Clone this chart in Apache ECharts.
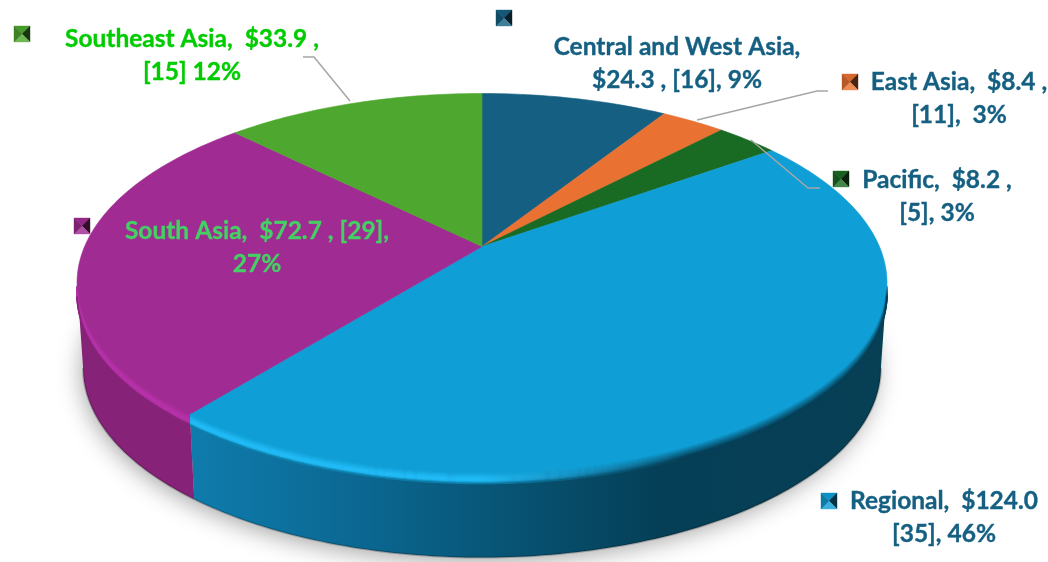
<!DOCTYPE html>
<html>
<head>
<meta charset="utf-8">
<style>html,body{margin:0;padding:0;background:#fff}#main{width:1048px;height:562px}</style>
<script src="https://cdn.jsdelivr.net/npm/echarts@6/dist/echarts.min.js"></script>
</head>
<body>
<div id="main"></div>
<script>
// values, clockwise from 12 o'clock
var regions = ['Central and West Asia', 'East Asia', 'Pacific', 'Regional', 'South Asia', 'Southeast Asia'];
var amounts = [24.3, 8.4, 8.2, 124.0, 72.7, 33.9];
var labels = [
    'Central and West Asia,\n$24.3 , [16], 9%',
    'East Asia,  $8.4 ,\n[11],  3%',
    'Pacific,  $8.2 ,\n[5], 3%',
    'Regional,  $124.0\n[35], 46%',
    'South Asia,  $72.7 , [29],\n27%',
    'Southeast Asia,  $33.9 ,\n[15] 12%'
];

// styles and layout
var faceColors = ['#156082', '#e97132', '#196b24', '#0f9ed5', '#a02b93', '#4ea72e'];
var wallColors = ['#104d68', '#b85a28', '#14561d', '#0c7eaa', '#862278', '#3e8625'];
var textColors = ['#156082', '#156082', '#156082', '#156082', '#44d062', '#00cc00'];
var markerPos = [[496, 10], [842, 74], [833, 171], [821, 493], [74, 218], [14, 26]];
var labelPos = [[677, 64], [959, 99], [937, 197], [944, 518], [257, 248], [192, 56]];
var leaders = [
    null,
    [[828, 91], [817, 91], [697, 120]],
    [[820, 188], [808, 188], [751, 140]],
    null,
    null,
    [[303, 57], [314, 57], [350, 101]]
];

// projection of the tilted disc
var cx = 482, apexY = 246.5, R = 397.4, Q = 182.5, K = 0.1926, depth = 85;

function project(deg, drop, shrink) {
    var a = deg * Math.PI / 180;
    var px = Math.sin(a), py = Math.cos(a), w = 1 + K * py;
    return [cx + R * px / w * (shrink || 1), apexY - Q * py / w + (drop || 0)];
}

function arc(from, to, drop, shrink) {
    var pts = [], n = Math.max(2, Math.ceil(Math.abs(to - from)));
    for (var i = 0; i <= n; i++) {
        pts.push(project(from + (to - from) * i / n, drop, shrink));
    }
    return pts;
}

function mix(c1, c2, t) {
    var out = '#';
    for (var i = 1; i < 7; i += 2) {
        var a = parseInt(c1.substr(i, 2), 16), b = parseInt(c2.substr(i, 2), 16);
        var v = Math.round(a + (b - a) * t).toString(16);
        out += v.length < 2 ? '0' + v : v;
    }
    return out;
}

var total = amounts.reduce(function (s, v) { return s + v; }, 0);
var starts = [], run = 0;
amounts.forEach(function (v) { starts.push(run / total * 360); run += v; });
function endAngle(i) { return starts[i] + amounts[i] / total * 360; }

var seriesData = regions.map(function (n, i) { return {name: n, value: amounts[i]}; });
var wallFrom = 101, wallTo = 259;

function wallGradient(i) {
    if (i === 3) {
        return new echarts.graphic.LinearGradient(190, 0, 880, 0, [
            {offset: 0, color: '#0f7cad'},
            {offset: 0.25, color: '#0b6791'},
            {offset: 0.5, color: '#07506f'},
            {offset: 0.68, color: '#053f57'},
            {offset: 1, color: '#073f55'}
        ], true);
    }
    return wallColors[i];
}

function renderWall(params) {
    var i = params.dataIndex;
    var from = Math.max(starts[i], wallFrom), to = Math.min(endAngle(i), wallTo);
    if (to <= from) return null;
    var top = arc(from, to, 0), bottom = arc(from, to, depth, 0.985);
    return {
        type: 'group',
        children: [{
            type: 'polygon',
            shape: {points: top.concat(bottom.slice().reverse())},
            style: {fill: wallGradient(i)}
        }, {
            type: 'polyline',
            shape: {points: bottom},
            style: {fill: 'none', stroke: 'rgba(0,0,0,0.22)', lineWidth: 2}
        }]
    };
}

function renderFace(params) {
    var i = params.dataIndex;
    var pts = [[cx, apexY]].concat(arc(starts[i], endAngle(i), 0));
    return {
        type: 'polygon',
        shape: {points: pts},
        style: {fill: faceColors[i], stroke: faceColors[i], lineWidth: 0.6}
    };
}

// soft rounded edge along the front of the disc
function renderBevel(params) {
    var i = params.dataIndex;
    var from = Math.max(starts[i], 102), to = Math.min(endAngle(i), 258);
    if (to <= from || i < 3) return null;
    var hi = i === 3 ? '#20baf6' : '#b631a9';
    var dark = i === 3 ? '#053f57' : '#862278';
    var kids = [];
    for (var t = 0; t <= 11; t++) {
        var s = t / 11;
        var left = s > 0.8 ? mix(hi, wallColors[i], (s - 0.8) / 0.2) : mix(faceColors[i], hi, Math.min(1, s / 0.55));
        var right = mix(faceColors[i], dark, Math.min(1, s * 1.1));
        kids.push({
            type: 'polyline',
            shape: {points: arc(from, to, t)},
            style: {
                fill: 'none', lineWidth: 1.6,
                stroke: new echarts.graphic.LinearGradient(190, 0, 880, 0, [
                    {offset: 0, color: left},
                    {offset: 0.42, color: left},
                    {offset: 0.72, color: right},
                    {offset: 1, color: right}
                ], true)
            }
        });
    }
    return {type: 'group', children: kids};
}

function renderShadow() {
    return {
        type: 'polygon',
        shape: {points: arc(0, 360, depth - 3, 0.98)},
        style: {
            fill: '#bbb', shadowBlur: 24, shadowColor: 'rgba(0,0,0,0.36)',
            shadowOffsetX: -3, shadowOffsetY: 7
        }
    };
}

function marker(pos, color) {
    var x = pos[0], y = pos[1], s = 16, c = [x + s / 2, y + s / 2];
    var tris = [
        [[x, y], [x + s, y], c, mix(color, '#000000', 0.08)],
        [[x + s, y], [x + s, y + s], c, mix(color, '#000000', 0.68)],
        [[x + s, y + s], [x, y + s], c, mix(color, '#ffffff', 0.18)],
        [[x, y + s], [x, y], c, mix(color, '#000000', 0.22)]
    ];
    return tris.map(function (t) {
        return {type: 'polygon', silent: true, z: 10, shape: {points: [t[0], t[1], t[2]]}, style: {fill: t[3], stroke: t[3], lineWidth: 0.4}};
    });
}

var graphics = [];
regions.forEach(function (n, i) {
    if (leaders[i]) {
        graphics.push({
            type: 'polyline', silent: true, z: 9,
            shape: {points: leaders[i]},
            style: {fill: 'none', stroke: '#a6a6a6', lineWidth: 1.5}
        });
    }
    graphics = graphics.concat(marker(markerPos[i], faceColors[i]));
    graphics.push({
        type: 'text', silent: true, z: 10,
        x: labelPos[i][0], y: labelPos[i][1],
        style: {
            text: labels[i], x: 0, y: 0, align: 'center', verticalAlign: 'middle',
            font: 'bold 24.5px Lato', lineHeight: 33, fill: textColors[i],
            stroke: textColors[i], lineWidth: 0.35
        }
    });
});

var myChart = echarts.init(document.getElementById('main'));
myChart.setOption({
    animation: false,
    backgroundColor: '#fff',
    graphic: graphics,
    series: [
        {type: 'custom', coordinateSystem: 'none', silent: true, z: 1, data: [total], renderItem: renderShadow},
        {type: 'custom', coordinateSystem: 'none', silent: true, z: 2, data: seriesData, renderItem: renderWall},
        {type: 'custom', coordinateSystem: 'none', silent: true, z: 3, data: seriesData, renderItem: renderFace},
        {type: 'custom', coordinateSystem: 'none', silent: true, z: 4, data: seriesData, renderItem: renderBevel}
    ]
});
</script>
</body>
</html>
